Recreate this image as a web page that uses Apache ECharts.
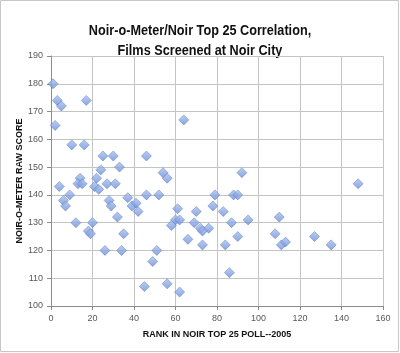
<!DOCTYPE html>
<html>
<head>
<meta charset="utf-8">
<script src="https://cdn.jsdelivr.net/npm/echarts@6/dist/echarts.min.js"></script>
<style>
html,body{margin:0;padding:0;background:#fff;}
.b{width:400px;height:353px;}
</style>
</head>
<body>
<div class="b" id="b"></div>
<script>
// rank in noir top 25 poll (x) and noir-o-meter raw score (y)
var ranks = [1,2,3,5,17,10,16,25,30,46,24,33,54,56,64,92,148,
    4,14,13,15,22,21,23,27,31,9,6,7,28,29,37,39,41,42,46,32,
    12,20,18,19,35,26,34,45,
    52,79,88,90,78,61,70,83,
    60,62,58,69,72,73,76,87,95,90,66,73,84,51,49,86,56,62,
    110,108,127,135,111,113];
var scores = [180,165,174,172,174,158,158,154,154,154,149,150,148,146,167,148,144,
    143,146,144,144,146,143,142,144,144,140,138,136,138,136,139,136,137,134,140,132,
    130,130,127,126,126,120,120,107,
    140,140,140,140,136,135,134,134,
    131,131,129,130,128,127,128,130,131,125,124,122,122,120,116,112,108,105,
    132,126,125,122,122,123];
var xTicks = [0,20,40,60,80,100,120,140,160];
var yTicks = [100,110,120,130,140,150,160,170,180,190];
var titleLines = ['Noir-o-Meter/Noir Top 25 Correlation,', 'Films Screened at Noir City'];

var pts = [];
for (var i = 0; i < ranks.length; i++) pts.push([ranks[i], scores[i]]);

var b = echarts.init(document.getElementById('b'));
var axisTxt = {fontSize: 9, color: '#595959', fontFamily: 'Liberation Sans'};
var nameTxt = {fontSize: 9, fontWeight: 'bold', color: '#111', fontFamily: 'Liberation Sans'};

// title is narrow in the original, so squeeze a bold sans horizontally
function titleText(str, y) {
    return {
        type: 'text', x: 200, y: y, scaleX: 0.845, silent: true,
        style: {
            text: str, textAlign: 'center', textVerticalAlign: 'alphabetic',
            font: 'bold 15px "Liberation Sans", Arial, sans-serif', fill: '#111'
        }
    };
}

var option = {
    animation: false,
    graphic: [{
        type: 'rect', shape: {x: 0.5, y: 0.5, width: 398, height: 351},
        style: {fill: 'none', stroke: '#c8c8c8', lineWidth: 1}, silent: true
    },
        titleText(titleLines[0], 23.5),
        titleText(titleLines[1], 43)
    ],
    grid: {left: 51, right: 17, top: 56, bottom: 47},
    xAxis: {
        type: 'value', min: xTicks[0], max: xTicks[xTicks.length - 1], interval: 20,
        name: 'RANK IN NOIR TOP 25 POLL--2005', nameLocation: 'middle', nameGap: 24,
        nameMoveOverlap: false,
        nameTextStyle: nameTxt,
        axisLine: {lineStyle: {color: '#8c8c8c'}},
        axisTick: {show: true, length: 4, lineStyle: {color: '#8c8c8c'}},
        axisLabel: Object.assign({margin: 8}, axisTxt),
        splitLine: {lineStyle: {color: '#c4c4c4'}}
    },
    yAxis: {
        type: 'value', min: yTicks[0], max: yTicks[yTicks.length - 1], interval: 10,
        name: 'NOIR-O-METER RAW SCORE', nameLocation: 'middle', nameGap: 27,
        nameMoveOverlap: false,
        nameTextStyle: nameTxt,
        axisLine: {show: true, lineStyle: {color: '#8c8c8c'}},
        axisTick: {show: true, length: 4, lineStyle: {color: '#8c8c8c'}},
        axisLabel: Object.assign({margin: 8}, axisTxt),
        splitLine: {lineStyle: {color: '#c4c4c4'}}
    },
    series: [{
        type: 'scatter', symbol: 'diamond', symbolSize: 10,
        data: pts,
        itemStyle: {
            color: new echarts.graphic.LinearGradient(0, 0, 0, 1, [
                {offset: 0, color: '#a9c2f0'}, {offset: 1, color: '#6d8fd6'}
            ]),
            borderColor: '#5877bd', borderWidth: 0.6
        }
    }]
};
b.setOption(option);
</script>
</body>
</html>
